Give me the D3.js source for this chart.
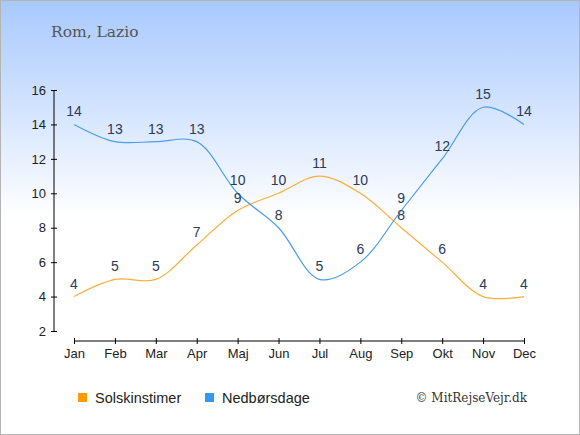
<!DOCTYPE html>
<html lang="da">
<head>
<meta charset="utf-8">
<title>Rom, Lazio</title>
<script src="https://cdn.jsdelivr.net/npm/d3@7"></script>
<style>
  body { margin: 0; padding: 0; }
  svg { display: block; }
</style>
</head>
<body>
<script>
var months = ['Jan', 'Feb', 'Mar', 'Apr', 'Maj', 'Jun', 'Jul', 'Aug', 'Sep', 'Okt', 'Nov', 'Dec'];
var sunHours = [4, 5, 5, 7, 9, 10, 11, 10, 8, 6, 4, 4];
var rainDays = [14, 13, 13, 13, 10, 8, 5, 6, 9, 12, 15, 14];
var yTicks = [2, 4, 6, 8, 10, 12, 14, 16];
var seriesNames = ['Solskinstimer', 'Nedbørsdage'];

var w = 580, h = 435;
var svg = d3.select('body').append('svg').attr('width', w).attr('height', h);

// background
var grad = svg.append('defs').append('linearGradient')
  .attr('id', 'bg').attr('x1', 0).attr('y1', 0).attr('x2', 0).attr('y2', 1);
grad.append('stop').attr('offset', '0%').attr('stop-color', '#a8c9fe');
grad.append('stop').attr('offset', '50%').attr('stop-color', '#ffffff');
grad.append('stop').attr('offset', '100%').attr('stop-color', '#ffffff');
svg.append('rect').attr('x', 0.5).attr('y', 0.5).attr('width', w - 1).attr('height', h - 1)
  .attr('fill', 'url(#bg)').attr('stroke', '#b4b4b4');

svg.append('text').attr('x', 51).attr('y', 37)
  .attr('font-family', 'DejaVu Serif, serif').attr('font-size', 15.5).attr('fill', '#555')
  .text('Rom, Lazio');

var xScale = d3.scalePoint().domain(months).range([74, 524]);
var yScale = d3.scaleLinear().domain([2, 16]).range([331, 90]);

// axes
var yAxis = d3.axisLeft(yScale).tickValues(yTicks).tickSize(3).tickPadding(5);
var gy = svg.append('g').attr('transform', 'translate(54,0)').call(yAxis);
gy.select('.domain').attr('stroke', '#000').attr('d', 'M0,90V331');
gy.selectAll('.tick line').attr('x1', -3).attr('x2', 3);
gy.selectAll('.tick text').attr('font-family', 'Liberation Sans, Arial, sans-serif')
  .attr('font-size', 13).attr('fill', '#222');

var xAxis = d3.axisBottom(xScale).tickSize(4).tickPadding(4);
var gx = svg.append('g').attr('transform', 'translate(0,341)').call(xAxis);
gx.select('.domain').attr('d', 'M74,0H524');
gx.selectAll('.tick line').attr('y1', -3).attr('y2', 3);
gx.selectAll('.tick text').attr('font-family', 'Liberation Sans, Arial, sans-serif')
  .attr('font-size', 13).attr('fill', '#222');

var line = d3.line()
  .x(function(d, i) { return xScale(months[i]); })
  .y(function(d) { return yScale(d); })
  .curve(d3.curveCatmullRom.alpha(0.5));

svg.append('path').datum(sunHours).attr('d', line)
  .attr('fill', 'none').attr('stroke', '#fbae3c').attr('stroke-width', 1.2);
svg.append('path').datum(rainDays).attr('d', line)
  .attr('fill', 'none').attr('stroke', '#4b9de8').attr('stroke-width', 1.2);

function addLabels(data) {
  svg.append('g').selectAll('text').data(data).enter().append('text')
    .attr('x', function(d, i) { return xScale(months[i]); })
    .attr('y', function(d) { return yScale(d) - 8; })
    .attr('text-anchor', 'middle')
    .attr('font-family', 'Liberation Sans, Arial, sans-serif')
    .attr('font-size', 14).attr('fill', '#2b3a5a')
    .text(function(d) { return d; });
}
addLabels(sunHours);
addLabels(rainDays);

// legend
var legendColors = ['#ff9a00', '#3399ee'];
var legendX = [78, 205];
var lg = svg.append('g').selectAll('g').data(seriesNames).enter().append('g');
lg.append('rect')
  .attr('x', function(d, i) { return legendX[i]; }).attr('y', 393)
  .attr('width', 9).attr('height', 9)
  .attr('fill', function(d, i) { return legendColors[i]; });
lg.append('text')
  .attr('x', function(d, i) { return legendX[i] + 17; }).attr('y', 403)
  .attr('font-family', 'Liberation Sans, Arial, sans-serif').attr('font-size', 14.5)
  .attr('fill', '#222')
  .text(function(d) { return d; });

svg.append('text').attr('x', 527).attr('y', 402).attr('text-anchor', 'end')
  .attr('font-family', 'DejaVu Serif, serif').attr('font-size', 12).attr('fill', '#333')
  .text('© MitRejseVejr.dk');
</script>
</body>
</html>
